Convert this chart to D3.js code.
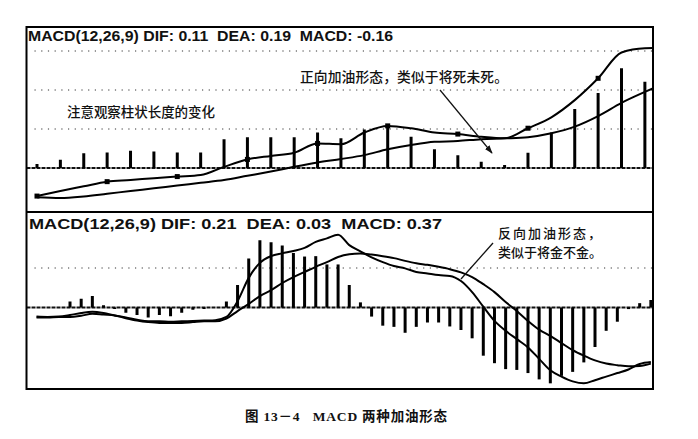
<!DOCTYPE html>
<html>
<head>
<meta charset="utf-8">
<script src="https://cdn.jsdelivr.net/npm/d3@7"></script>
<style>
    body { margin: 0; background: #fff; }
    text { fill: #111; }
</style>
</head>
<body>
<script>
// upper panel: MACD bars, DIF and DEA (one value per bar)
const topBars = [0.010, 0.021, 0.038, 0.040, 0.044, 0.042, 0.040, 0.040, 0.074, 0.079,
                 0.079, 0.079, 0.091, 0.076, 0.099, 0.110, 0.080, 0.048, 0.033, 0.016,
                 0.008, 0.039, 0.091, 0.151, 0.192, 0.256, 0.221];
const topDif = [-0.072, -0.059, -0.047, -0.035, -0.031, -0.026, -0.022, -0.018, 0.003, 0.022,
                0.031, 0.039, 0.063, 0.061, 0.091, 0.108, 0.102, 0.091, 0.087, 0.080,
                0.076, 0.102, 0.130, 0.174, 0.230, 0.296, 0.307, 0.308];
const topDea = [-0.075, -0.077, -0.073, -0.066, -0.059, -0.052, -0.045, -0.038, -0.031, -0.020,
                -0.009, 0.003, 0.014, 0.023, 0.033, 0.048, 0.059, 0.067, 0.069, 0.074,
                0.076, 0.079, 0.089, 0.106, 0.133, 0.167, 0.195, 0.221];
const topGrid = [0.1, 0.2, 0.3];

// lower panel (null = no bar drawn)
const botBars = [null, null, null, 0.015, 0.022, 0.029, 0.006, -0.004, -0.013, -0.019,
                 -0.025, -0.019, -0.022, -0.013, -0.006, -0.004, 0, 0.015, 0.057, 0.124,
                 0.170, 0.165, 0.157, 0.138, 0.129, 0.130, 0.109, 0.109, 0.057, 0.013,
                 -0.023, -0.046, -0.049, -0.064, -0.049, -0.038, -0.038, -0.048, -0.057, -0.078,
                 -0.122, -0.141, -0.156, -0.158, -0.166, -0.182, -0.192, -0.173, -0.163, -0.139,
                 -0.100, -0.059, -0.036, -0.004, 0.011, 0.019];
const botDif = [-0.023, -0.024, -0.023, -0.019, -0.014, -0.011, -0.014, -0.020, -0.025, -0.031,
                -0.035, -0.035, -0.036, -0.035, -0.034, -0.033, -0.032, -0.024, 0.016, 0.075,
                0.113, 0.130, 0.137, 0.143, 0.151, 0.166, 0.175, 0.184, 0.158, 0.142,
                0.127, 0.115, 0.105, 0.099, 0.090, 0.086, 0.082, 0.080, 0.067, 0.039,
                0.002, -0.034, -0.059, -0.080, -0.101, -0.130, -0.159, -0.175, -0.187, -0.192,
                -0.184, -0.175, -0.166, -0.157, -0.143, -0.138];
const botDea = [-0.025, -0.025, -0.024, -0.024, -0.021, -0.016, -0.018, -0.020, -0.027, -0.033,
                -0.037, -0.039, -0.039, -0.039, -0.037, -0.035, -0.035, -0.028, -0.009, 0.009,
                0.029, 0.044, 0.062, 0.077, 0.090, 0.103, 0.115, 0.128, 0.135, 0.137,
                0.134, 0.130, 0.125, 0.118, 0.112, 0.108, 0.103, 0.097, 0.089, 0.077,
                0.059, 0.039, 0.014, -0.009, -0.034, -0.056, -0.072, -0.090, -0.108, -0.122,
                -0.134, -0.142, -0.146, -0.149, -0.148, -0.142];
const botGrid = [0.1];

const titles = ["MACD(12,26,9) DIF: 0.11  DEA: 0.19  MACD: -0.16",
                "MACD(12,26,9) DIF: 0.21  DEA: 0.03  MACD: 0.37"];
const caption = "图 13－4   MACD 两种加油形态";

const width = 698, height = 439;
const left = 26.5, right = 653;
const panels = [
    {top: 27, bottom: 212, zero: 168, unit: 390, x0: 37, step: 23.38,
     bars: topBars, dif: topDif, dea: topDea, grid: topGrid, title: titles[0], tx: 28, ty: 40.5, tw: 365},
    {top: 212, bottom: 389, zero: 307.5, unit: 395, x0: 36.5, step: 11.17,
     bars: botBars, dif: botDif, dea: botDea, grid: botGrid, title: titles[1], tx: 29, ty: 229, tw: 413}
];

const svg = d3.select("body").append("svg")
    .attr("width", width)
    .attr("height", height);

const defs = svg.append("defs");
defs.append("marker")
    .attr("id", "arr")
    .attr("viewBox", "0 0 10 10")
    .attr("refX", 9).attr("refY", 5)
    .attr("markerWidth", 7).attr("markerHeight", 7)
    .attr("orient", "auto")
    .append("path")
        .attr("d", "M0,1.5 L10,5 L0,8.5 z")
        .attr("fill", "#111");

panels.forEach(function(p, k) {
    const n = p.dif.length;
    const x = d3.scaleLinear().domain([0, n - 1]).range([p.x0, p.x0 + p.step * (n - 1)]);
    const y = d3.scaleLinear().domain([0, 0.1]).range([p.zero, p.zero - p.unit * 0.1]);

    defs.append("clipPath").attr("id", "clip" + k)
        .append("rect")
            .attr("x", left).attr("y", p.top)
            .attr("width", right - left).attr("height", p.bottom - p.top);

    const g = svg.append("g").attr("clip-path", "url(#clip" + k + ")");

    // dotted grid
    g.selectAll(".grid")
        .data(p.grid)
        .enter().append("line")
            .attr("x1", left + 8).attr("x2", right)
            .attr("y1", function(d) { return y(d); })
            .attr("y2", function(d) { return y(d); })
            .attr("stroke", "#333")
            .attr("stroke-width", 1)
            .attr("stroke-dasharray", "1.2,5.5");

    // zero line
    g.append("line")
        .attr("x1", left).attr("x2", right)
        .attr("y1", y(0)).attr("y2", y(0))
        .attr("stroke", "#111")
        .attr("stroke-width", 2)
        .attr("stroke-dasharray", "4,1");

    // histogram
    g.selectAll(".bar")
        .data(p.bars.map(function(v, i) { return {i: i, v: v}; })
                    .filter(function(d) { return d.v !== null && d.v !== 0; }))
        .enter().append("line")
            .attr("x1", function(d) { return x(d.i); })
            .attr("x2", function(d) { return x(d.i); })
            .attr("y1", y(0))
            .attr("y2", function(d) { return y(d.v); })
            .attr("stroke", "#000")
            .attr("stroke-width", 3);

    const line = d3.line()
        .x(function(d, i) { return x(i); })
        .y(function(d) { return y(d); })
        .curve(d3.curveMonotoneX);

    [p.dea, p.dif].forEach(function(s) {
        g.append("path")
            .attr("d", line(s))
            .attr("fill", "none")
            .attr("stroke", "#000")
            .attr("stroke-width", 2);
    });

    // small square markers on the upper DIF line
    if (k === 0) {
        g.selectAll(".mk")
            .data(p.dif.filter(function(d, i) { return i % 3 === 0 && i < p.bars.length; }))
            .enter().append("rect")
                .attr("x", function(d, j) { return x(j * 3) - 2.5; })
                .attr("y", function(d) { return y(d) - 2.5; })
                .attr("width", 5).attr("height", 5)
                .attr("fill", "#000");
    }

    svg.append("text")
        .attr("x", p.tx).attr("y", p.ty)
        .attr("textLength", p.tw)
        .attr("lengthAdjust", "spacingAndGlyphs")
        .attr("xml:space", "preserve")
        .style("font-family", "'Liberation Sans', Arial, sans-serif")
        .style("font-weight", "bold")
        .style("font-size", "15.5px")
        .text(p.title);
});

// frame
svg.append("rect")
    .attr("x", left).attr("y", 27)
    .attr("width", right - left).attr("height", 389 - 27)
    .attr("fill", "none")
    .attr("stroke", "#000")
    .attr("stroke-width", 2);
svg.append("line")
    .attr("x1", left).attr("x2", right)
    .attr("y1", 212).attr("y2", 212)
    .attr("stroke", "#000")
    .attr("stroke-width", 2);

// annotations
const cjk = "'Noto Sans CJK SC', sans-serif";
function note(str, tx, ty, size, tl) {
    svg.append("text")
        .attr("x", tx).attr("y", ty)
        .attr("textLength", tl)
        .style("font-family", cjk)
        .style("font-weight", 500)
        .style("font-size", size + "px")
        .text(str);
}
note("注意观察柱状长度的变化", 67, 117, 13.5, 148);
note("正向加油形态，类似于将死未死。", 300, 82, 13.8, 208);
note("反向加油形态，", 498, 238, 13, 103);
note("类似于将金不金。", 498, 257, 13, 104);

svg.append("line")
    .attr("x1", 440).attr("y1", 90)
    .attr("x2", 492).attr("y2", 153)
    .attr("stroke", "#111")
    .attr("stroke-width", 1.2)
    .attr("marker-end", "url(#arr)");
svg.append("line")
    .attr("x1", 493).attr("y1", 243)
    .attr("x2", 461).attr("y2", 279)
    .attr("stroke", "#111")
    .attr("stroke-width", 1.3);

svg.append("text")
    .attr("x", 245).attr("y", 421)
    .attr("textLength", 202)
    .attr("xml:space", "preserve")
    .style("font-family", "'Liberation Serif', 'Noto Sans CJK SC', serif")
    .style("font-weight", 600)
    .style("font-size", "13.5px")
    .text(caption);
</script>
</body>
</html>
